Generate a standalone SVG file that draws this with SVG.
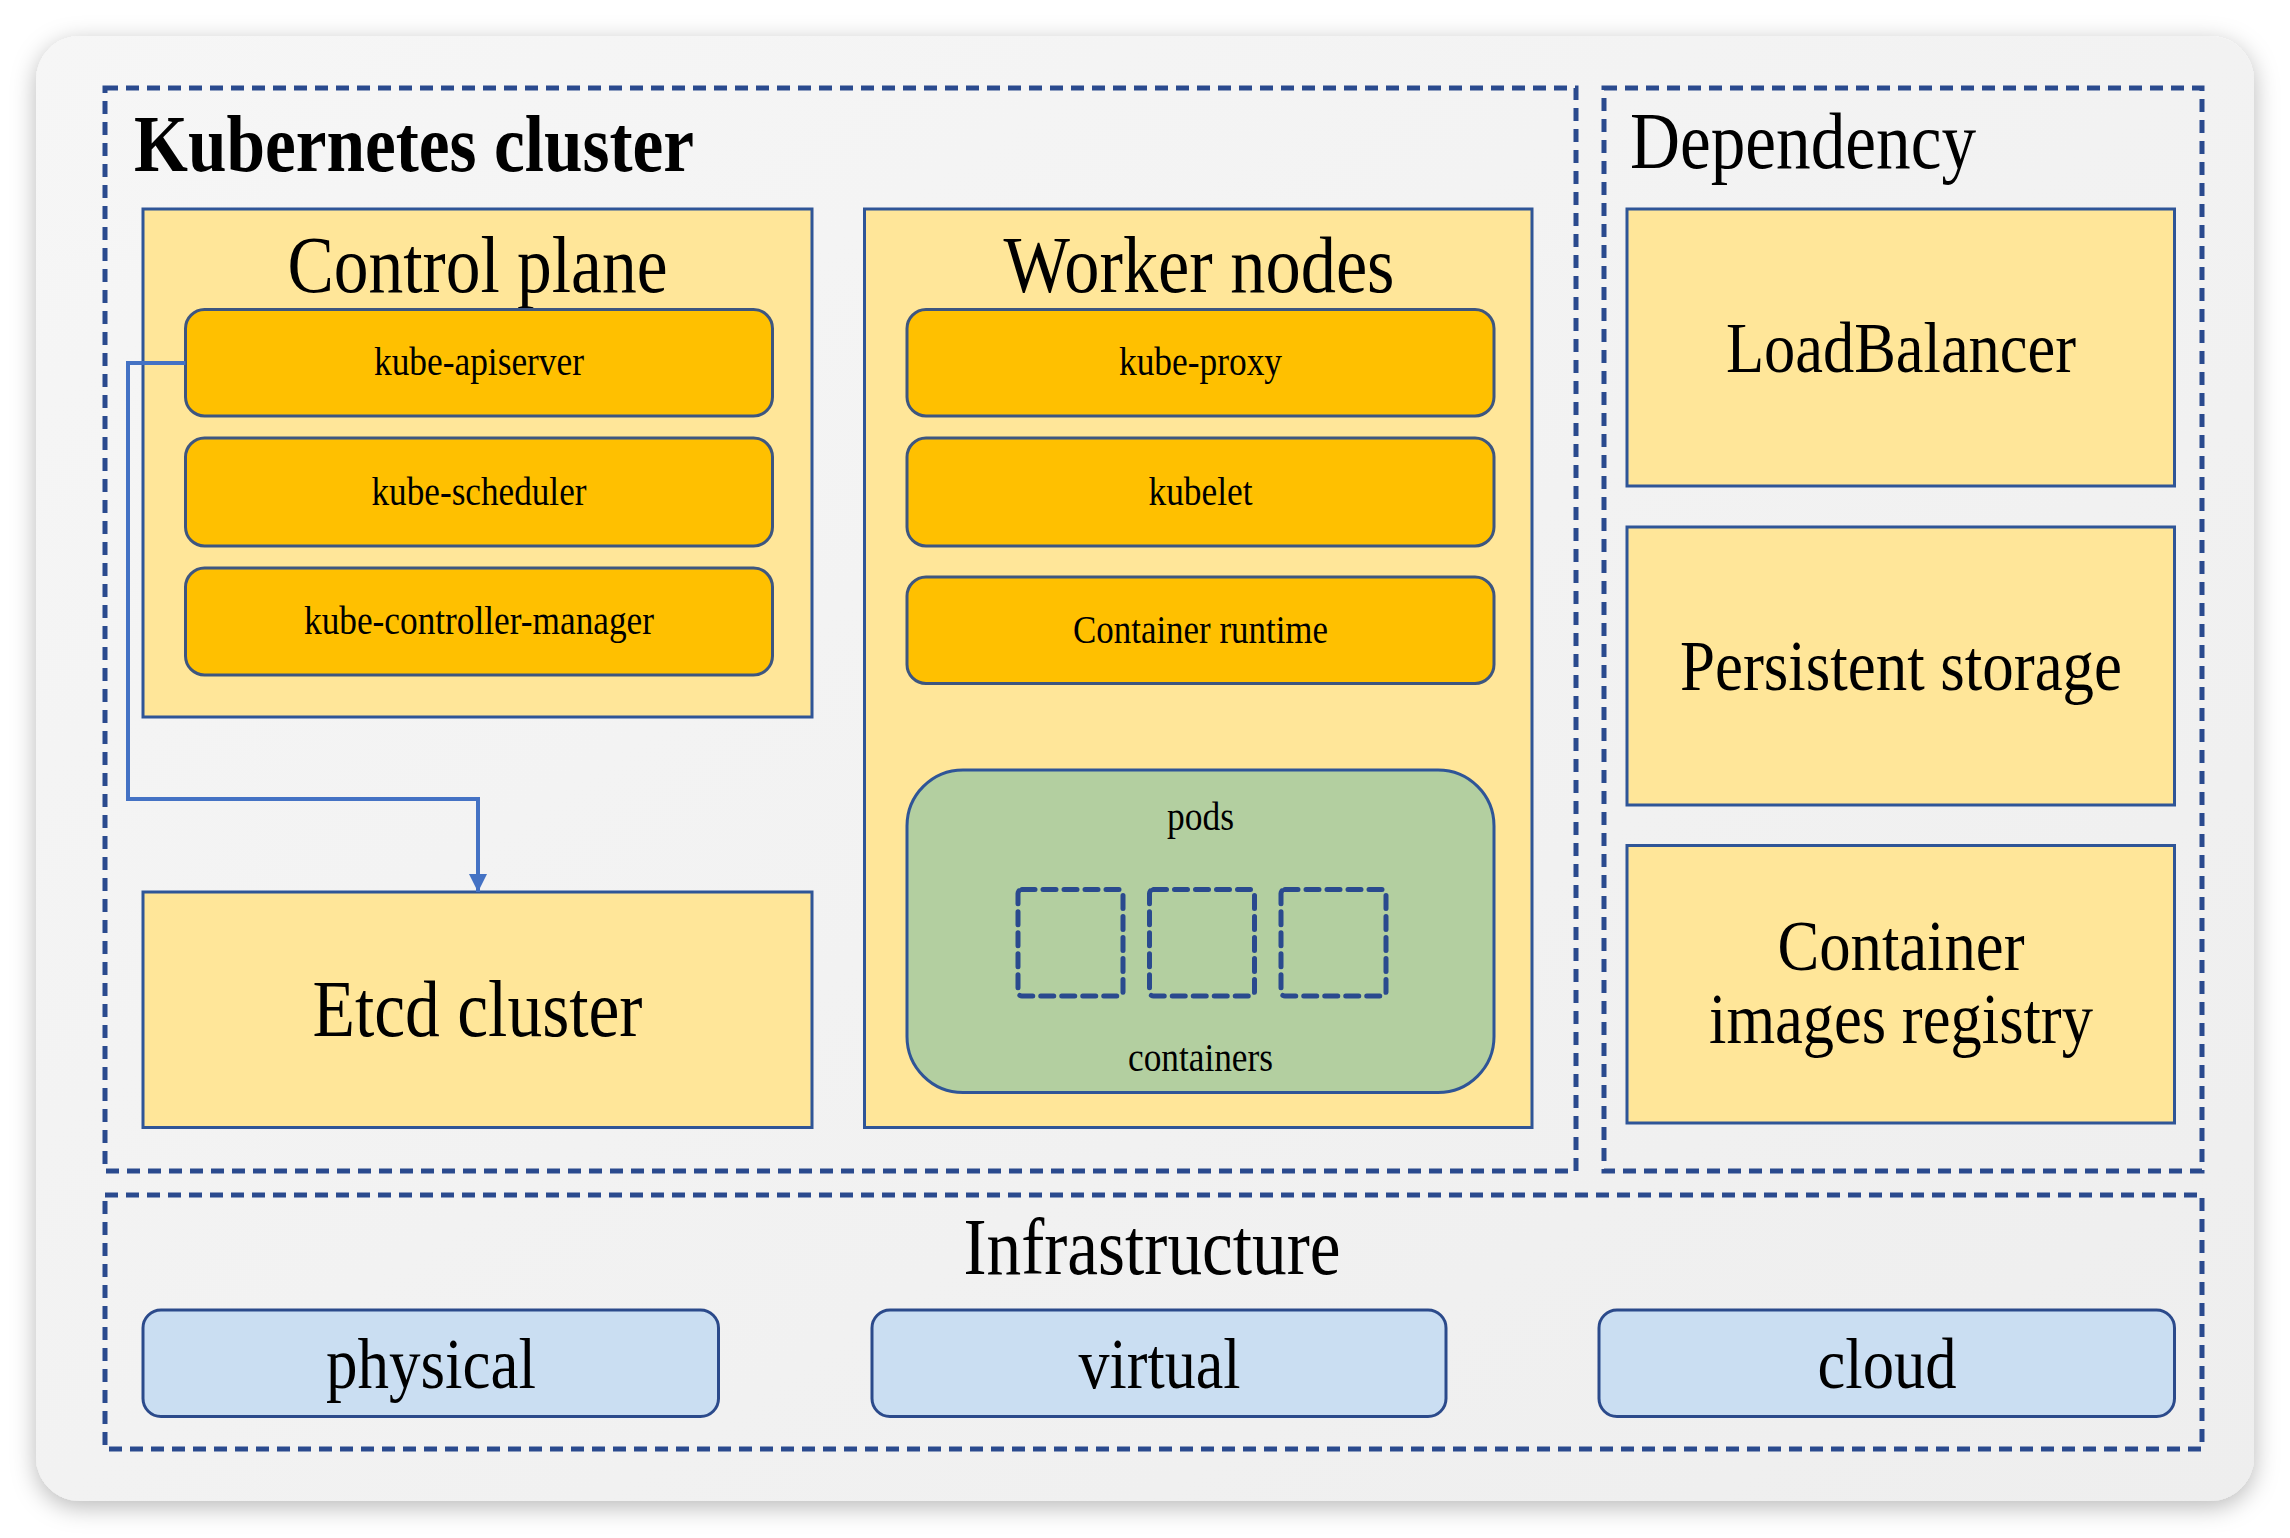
<svg xmlns="http://www.w3.org/2000/svg" width="2290" height="1538" viewBox="0 0 2290 1538">
<defs>
<filter id="shadow" x="-5%" y="-5%" width="110%" height="110%">
<feDropShadow dx="0" dy="6" stdDeviation="12" flood-color="#000" flood-opacity="0.28"/>
</filter>
<linearGradient id="cardg" x1="0" y1="0" x2="1" y2="1">
<stop offset="0" stop-color="#f6f6f6"/>
<stop offset="1" stop-color="#eeeeee"/>
</linearGradient>
<marker id="arrow" viewBox="0 0 10 10" refX="10" refY="5" markerWidth="4.8" markerHeight="4.5" orient="auto" markerUnits="strokeWidth">
<path d="M0,0 L10,5 L0,10 Z" fill="#4472C4"/>
</marker>
<style>
.dash{fill:none;stroke:#2a4a8e;stroke-width:5;stroke-dasharray:13 8}
.yel{fill:#FFE699;stroke:#2F5597;stroke-width:3}
.org{fill:#FFC000;stroke:#3d5680;stroke-width:3}
.pod{fill:#B3CFA0;stroke:#2F5597;stroke-width:3}
.inf{fill:#CADEF2;stroke:#2b4a8b;stroke-width:3}
.ctr{fill:none;stroke:#2a4a8e;stroke-width:5;stroke-dasharray:13 8;stroke-linecap:round}
text{font-family:"Liberation Serif","Times New Roman",serif;fill:#000;text-anchor:middle}
.t80{font-size:80px}
.t72{font-size:72px}
.t40{font-size:40px}
.bold{font-weight:bold}
.conn{fill:none;stroke:#4472C4;stroke-width:4}
</style>
</defs>
<rect width="2290" height="1538" fill="#ffffff"/>
<rect id="card" x="36" y="36" width="2218" height="1465" rx="44" fill="url(#cardg)" filter="url(#shadow)"/>

<g id="kubernetes-cluster">
<rect class="dash" x="105" y="88" width="1471" height="1083"/>
<text class="t80 bold" x="134" y="171" style="text-anchor:start" textLength="560" lengthAdjust="spacingAndGlyphs">Kubernetes cluster</text>
</g>

<g id="control-plane">
<rect class="yel" x="143" y="209" width="669" height="508"/>
<text class="t80" x="477.5" y="292" textLength="380" lengthAdjust="spacingAndGlyphs">Control plane</text>
</g>
<g id="kube-apiserver">
<rect class="org" x="185.5" y="309.5" width="587" height="106.5" rx="19"/>
<text class="t40" x="479" y="375" textLength="210" lengthAdjust="spacingAndGlyphs">kube-apiserver</text>
</g>
<g id="kube-scheduler">
<rect class="org" x="185.5" y="438" width="587" height="108" rx="19"/>
<text class="t40" x="479" y="505" textLength="215" lengthAdjust="spacingAndGlyphs">kube-scheduler</text>
</g>
<g id="kube-controller-manager">
<rect class="org" x="185.5" y="568" width="587" height="107" rx="19"/>
<text class="t40" x="479" y="634" textLength="350" lengthAdjust="spacingAndGlyphs">kube-controller-manager</text>
</g>

<g id="etcd-cluster">
<rect class="yel" x="143" y="892" width="669" height="235.5"/>
<text class="t80" x="477.5" y="1036" textLength="330" lengthAdjust="spacingAndGlyphs">Etcd cluster</text>
</g>

<g id="worker-nodes">
<rect class="yel" x="864.5" y="209" width="667.5" height="918.5"/>
<text class="t80" x="1199" y="292" textLength="391" lengthAdjust="spacingAndGlyphs">Worker nodes</text>
</g>
<g id="kube-proxy">
<rect class="org" x="907" y="309.5" width="587" height="106.5" rx="19"/>
<text class="t40" x="1200.5" y="375" textLength="163" lengthAdjust="spacingAndGlyphs">kube-proxy</text>
</g>
<g id="kubelet">
<rect class="org" x="907" y="438" width="587" height="108" rx="19"/>
<text class="t40" x="1200.5" y="505" textLength="104" lengthAdjust="spacingAndGlyphs">kubelet</text>
</g>
<g id="container-runtime">
<rect class="org" x="907" y="577" width="587" height="106.5" rx="19"/>
<text class="t40" x="1200.5" y="642.5" textLength="255" lengthAdjust="spacingAndGlyphs">Container runtime</text>
</g>
<g id="pods">
<rect class="pod" x="907" y="770" width="587" height="322.5" rx="56"/>
<text class="t40" x="1200.5" y="829.5" textLength="67" lengthAdjust="spacingAndGlyphs">pods</text>
<rect class="ctr" x="1018" y="889.5" width="105" height="106.5" rx="4"/>
<rect class="ctr" x="1149.5" y="889.5" width="105" height="106.5" rx="4"/>
<rect class="ctr" x="1281" y="889.5" width="105" height="106.5" rx="4"/>
<text class="t40" x="1200.5" y="1070.5" textLength="145" lengthAdjust="spacingAndGlyphs">containers</text>
</g>

<g id="dependency">
<rect class="dash" x="1604" y="88" width="598" height="1083"/>
<text class="t80" x="1630" y="168" style="text-anchor:start" textLength="346" lengthAdjust="spacingAndGlyphs">Dependency</text>
</g>
<g id="loadbalancer">
<rect class="yel" x="1627" y="209" width="547.5" height="277"/>
<text class="t72" x="1901" y="372" textLength="350" lengthAdjust="spacingAndGlyphs">LoadBalancer</text>
</g>
<g id="persistent-storage">
<rect class="yel" x="1627" y="527" width="547.5" height="278"/>
<text class="t72" x="1901" y="690" textLength="442" lengthAdjust="spacingAndGlyphs">Persistent storage</text>
</g>
<g id="container-images-registry">
<rect class="yel" x="1627" y="845.5" width="547.5" height="277.5"/>
<text class="t72" x="1901" y="970" textLength="247" lengthAdjust="spacingAndGlyphs">Container</text>
<text class="t72" x="1901" y="1043" textLength="384" lengthAdjust="spacingAndGlyphs">images registry</text>
</g>

<g id="infrastructure">
<rect class="dash" x="105" y="1195" width="2097" height="254"/>
<text class="t80" x="1152" y="1273.5" textLength="377" lengthAdjust="spacingAndGlyphs">Infrastructure</text>
</g>
<g id="physical">
<rect class="inf" x="143" y="1310" width="575.5" height="106.5" rx="18"/>
<text class="t72" x="431" y="1387.5" textLength="210" lengthAdjust="spacingAndGlyphs">physical</text>
</g>
<g id="virtual">
<rect class="inf" x="872" y="1310" width="574" height="106.5" rx="18"/>
<text class="t72" x="1159.5" y="1387.5" textLength="162" lengthAdjust="spacingAndGlyphs">virtual</text>
</g>
<g id="cloud">
<rect class="inf" x="1599" y="1310" width="575.5" height="106.5" rx="18"/>
<text class="t72" x="1887" y="1387.5" textLength="139" lengthAdjust="spacingAndGlyphs">cloud</text>
</g>

<g id="connectors">
<path class="conn" d="M185.5 363 H128 V799 H478 V892" marker-end="url(#arrow)"/>
</g>
</svg>
